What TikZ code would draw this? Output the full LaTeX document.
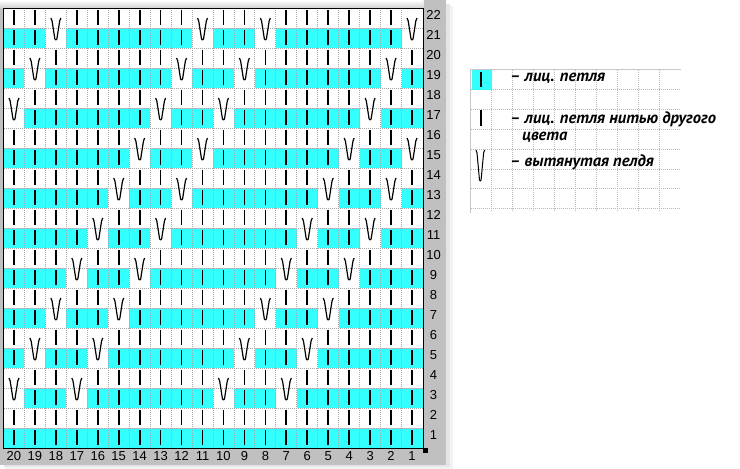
\documentclass[tikz,border=0pt]{standalone}
\usepackage{fontspec}
\setmainfont{Liberation Sans}
\newfontfamily\hand{PT Sans}
\definecolor{cy}{HTML}{33FFFF}
\definecolor{framegray}{HTML}{C0C0C0}
\definecolor{dotgray}{HTML}{A8A8A8}
\definecolor{leggray}{HTML}{C8C8C8}
\tikzset{
  kst/.style={line width=1.7pt},
  vst/.style={line width=1.2pt, line join=round},
  dotline/.style={dotgray, line width=0.9pt, dash pattern=on 1pt off 1pt},
  num/.style={font=\fontsize{13}{13}\selectfont, inner sep=0pt},
  legtext/.style={font=\hand\bfseries\itshape\fontsize{16.5}{18}\selectfont, inner sep=0pt, anchor=west},
}
\begin{document}
\begin{tikzpicture}[x=1pt,y=-1pt]
\useasboundingbox (0,0) rectangle (740,469);
\fill[white] (0,0) rectangle (740,469);
% window with soft shadow
\fill[black!5] (6,6) rectangle (453,469);
\fill[black!10] (4,4) rectangle (450,467);
\fill[framegray] (0,0) rectangle (446,464.5);
\shade[top color=white, bottom color=black!18] (0,0) rectangle (423.5,8);
% grid body
\fill[white] (3.5,8) rectangle (423,448);
\foreach \r in {1,3,...,21}{
  \fill[cy] (3.5,{8+(22-\r)*20}) rectangle (423,{8+(23-\r)*20});
}
% white cells for slipped stitches
\foreach \r/\va/\vb/\vc/\vd in {21/18/11/8/1,19/19/12/9/2,17/20/13/10/3,15/14/11/4/1,13/15/12/5/2,11/16/13/6/3,9/17/14/7/4,7/18/15/8/5,5/19/16/9/6,3/20/17/10/7}{
  \pgfmathsetmacro\rt{8+(22-\r)*20}
  \foreach \col in {\va,\vb,\vc,\vd}{
    \pgfmathsetmacro\cx{3.5+(20.5-\col)*20.95}
    \fill[white] ({\cx-10.475},{\rt}) rectangle ({\cx+10.475},{\rt+20});
  }
}
% dotted grid lines
\foreach \k in {1,...,19}{
  \draw[dotline] ({3.5+\k*20.95},8) -- ({3.5+\k*20.95},448);
}
\foreach \k in {1,...,21}{
  \draw[dotline] (3.5,{8+\k*20}) -- (423,{8+\k*20});
}
% border
\draw[black, line width=1pt] (3.5,8) rectangle (423,448);
\fill[black] (422.5,447.5) rectangle (427.5,452.5);
% stitches
\foreach \r/\va/\vb/\vc/\vd in {21/18/11/8/1,19/19/12/9/2,17/20/13/10/3,15/14/11/4/1,13/15/12/5/2,11/16/13/6/3,9/17/14/7/4,7/18/15/8/5,5/19/16/9/6,3/20/17/10/7,1/0/0/0/0}{
  \pgfmathsetmacro\rt{8+(22-\r)*20}
  \foreach \col in {1,...,20}{
    \pgfmathsetmacro\cx{3.5+(20.5-\col)*20.95}
    \pgfmathtruncatemacro\isv{(\col==\va)||(\col==\vb)||(\col==\vc)||(\col==\vd)}
    \ifnum\isv=1
      \draw[vst] ({\cx-5},{\rt-10}) -- ({\cx-3.8},{\rt-7}) -- ({\cx-1},{\rt+11}) -- ({\cx},{\rt+12}) -- ({\cx+1},{\rt+11}) -- ({\cx+3.8},{\rt-7}) -- ({\cx+5},{\rt-10});
    \else
      \draw[kst] ({\cx},{\rt+2}) -- ({\cx},{\rt+17});
      \draw[kst] ({\cx},{\rt-18}) -- ({\cx},{\rt-3});
    \fi
  }
}
% numbers
\foreach \col in {1,...,20}{
  \node[num] (b\col) at ({3.5+(20.5-\col)*20.95},456) {\col};
}
\foreach \r in {1,...,22}{
  \node[num] (n\r) at (433.5,{8+(22-\r)*20+7}) {\r};
}
% legend
\fill[cy] (471.5,70) rectangle (491.8,89.5);
\foreach \k in {1,...,9}{
  \draw[dotline, dotgray!80] ({471+\k*20.9},70) -- ({471+\k*20.9},211);
}
\foreach \k in {1,...,7}{
  \draw[dotline, dotgray!80] (471,{69.5+\k*19.9}) -- (681,{69.5+\k*19.9});
}
\draw[leggray, line width=1pt] (681,69.5) -- (470.5,69.5) -- (470.5,213);
\draw[kst, line width=1.5pt] (481,72) -- (481,87);
\draw[kst, line width=1.5pt] (481,110) -- (481,126);
\draw[vst, line width=1pt] (476,150) -- (477,153) -- (479.5,180) -- (480.3,181) -- (481.1,180) -- (483.6,153) -- (484.6,150);
\node[legtext] (t1) at (510,78.5) {– лиц. петля};
\node[legtext] (t2) at (510,119) {– лиц. петля нитью другого};
\node[legtext] (t3) at (522,137.5) {цвета};
\node[legtext] (t4) at (510,162) {– вытянутая пелдя};
\end{tikzpicture}
\end{document}
